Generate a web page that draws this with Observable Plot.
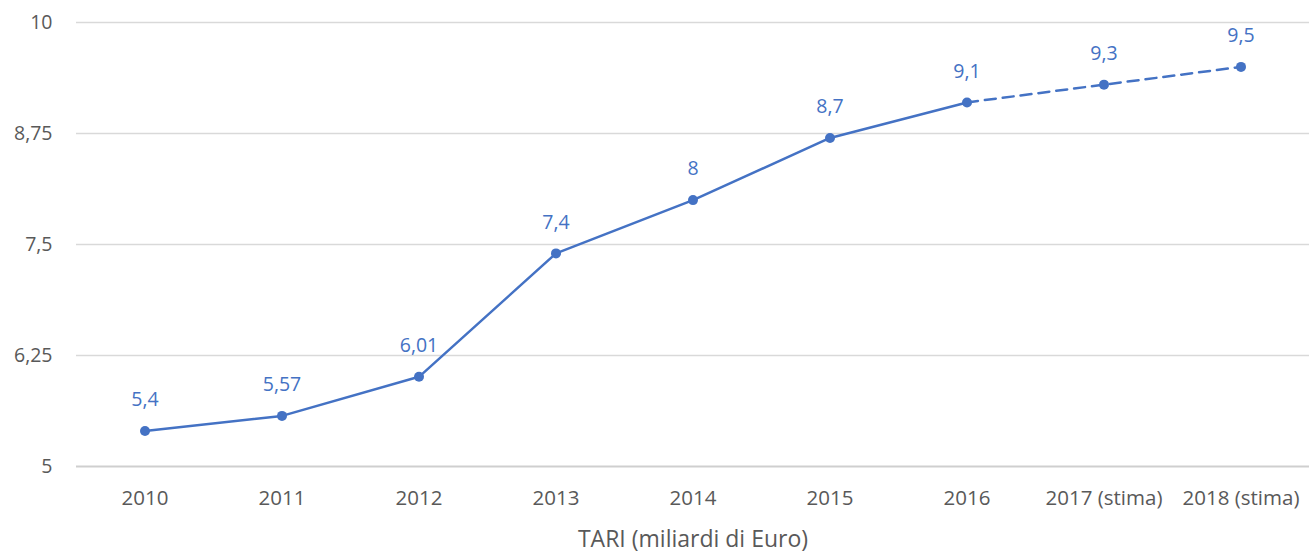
<!DOCTYPE html>
<html><head><meta charset="utf-8">
<script src="https://cdn.jsdelivr.net/npm/d3@7"></script>
<script src="https://cdn.jsdelivr.net/npm/@observablehq/plot@0.6"></script>
<style>
body{margin:0;background:#fff;}
</style>
</head><body><div id="chart"></div>
<script>
const years = ["2010","2011","2012","2013","2014","2015","2016","2017 (stima)","2018 (stima)"];
const values = [5.4,5.57,6.01,7.4,8,8.7,9.1,9.3,9.5];
const labels = ["5,4","5,57","6,01","7,4","8","8,7","9,1","9,3","9,5"];
const yTicks = [5,6.25,7.5,8.75,10];

const data = years.map((y,i)=>({year:y,value:values[i],label:labels[i]}));
const solid = data.slice(0,7);
const dashed = data.slice(6);
const blue = "#4472C4";
const fmt = v => String(v).replace(".", ",");

const chart = Plot.plot({
  width:1309, height:552,
  marginLeft:76, marginRight:0, marginTop:22, marginBottom:86,
  style:{fontFamily:"'Open Sans', sans-serif", fontSize:"19px", color:"#595959", background:"#fff"},
  x:{domain:years, type:"band", padding:0},
  y:{domain:[5,10]},
  marks:[
    Plot.ruleY(yTicks.filter(d=>d!==5), {stroke:"#d9d9d9", strokeWidth:1.5}),
    Plot.ruleY([5], {stroke:"#cfcfcf", strokeWidth:2}),
    Plot.line(solid, {x:"year", y:"value", stroke:blue, strokeWidth:2.5}),
    Plot.line(dashed, {x:"year", y:"value", stroke:blue, strokeWidth:2.5, strokeDasharray:"11,7"}),
    Plot.dot(data, {x:"year", y:"value", fill:blue, r:5}),
    Plot.text(data, {x:"year", y:"value", text:"label", dy:-31, fill:blue, fontSize:19.5}),
    Plot.axisX({tickSize:0, tickPadding:24, label:null, fontSize:20.5}),
    Plot.axisX({ticks:[], tickSize:0, label:"TARI (miliardi di Euro)", labelAnchor:"center", labelArrow:"none", labelOffset:80, fontSize:23}),
    Plot.axisY({ticks:yTicks, tickFormat:fmt, tickSize:0, tickPadding:24, label:null, fontSize:19.5})
  ]
});
document.getElementById("chart").appendChild(chart);
</script>
</body></html>
